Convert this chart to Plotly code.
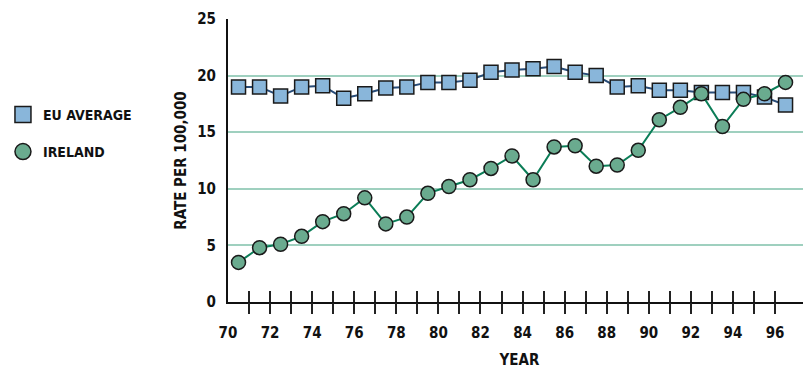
import plotly.graph_objects as go

years = list(range(1970, 1997))
eu_average = [19.0, 19.0, 18.2, 19.0, 19.1, 18.0, 18.4, 18.9, 19.0, 19.4,
              19.4, 19.6, 20.3, 20.5, 20.6, 20.8, 20.3, 20.0, 19.0, 19.1,
              18.7, 18.7, 18.5, 18.5, 18.5, 18.1, 17.4]
ireland = [3.5, 4.8, 5.1, 5.8, 7.1, 7.8, 9.2, 6.9, 7.5, 9.6,
           10.2, 10.8, 11.8, 12.9, 10.8, 13.7, 13.8, 12.0, 12.1, 13.4,
           16.1, 17.2, 18.4, 15.5, 17.9, 18.4, 19.4]
x_label_vals = list(range(70, 97, 2))
x_tick_vals = list(range(71, 97))
y_tick_vals = [0, 5, 10, 15, 20, 25]

# plot years at mid-year position on a 2-digit year axis
xpos = [y - 1900 + 0.5 for y in years]

FONT = "DejaVu Sans Condensed, Liberation Sans Narrow, sans-serif"
EU_FILL = "#89b6da"
EU_LINE = "#274b77"
IR_FILL = "#6aab8f"
IR_LINE = "#0b7d57"
EDGE = "#1a1a1a"
GRID = "#9fd0bf"

fig = go.Figure()

fig.add_trace(go.Scatter(
    x=xpos, y=eu_average, mode="lines+markers", name="EU AVERAGE",
    line=dict(color=EU_LINE, width=2),
    marker=dict(symbol="square", size=14, color=EU_FILL, line=dict(color=EDGE, width=1.5)),
    showlegend=False, cliponaxis=False,
))
fig.add_trace(go.Scatter(
    x=xpos, y=ireland, mode="lines+markers", name="IRELAND",
    line=dict(color=IR_LINE, width=2),
    marker=dict(symbol="circle", size=14, color=IR_FILL, line=dict(color=EDGE, width=1.5)),
    showlegend=False, cliponaxis=False,
))
# legend-only entries (marker only)
fig.add_trace(go.Scatter(
    x=[None], y=[None], mode="markers", name="EU AVERAGE",
    marker=dict(symbol="square", size=16, color=EU_FILL, line=dict(color=EDGE, width=1.5)),
    legend="legend",
))
fig.add_trace(go.Scatter(
    x=[None], y=[None], mode="markers", name="IRELAND",
    marker=dict(symbol="circle", size=16, color=IR_FILL, line=dict(color=EDGE, width=1.5)),
    legend="legend2",
))

tickfont = dict(family=FONT, size=15, color="#111111", weight="bold")
titlefont = dict(family=FONT, size=15, color="#111111", weight="bold")
legfont = dict(family=FONT, size=14, color="#111111", weight="bold")
xr = [70, 97.71]

# the page body has an 8px margin; figure is sized/margined to compensate
fig.update_layout(
    width=803, height=361,
    margin=dict(l=220, r=0, t=11, b=67, autoexpand=False),
    paper_bgcolor="white", plot_bgcolor="white",
    font=dict(family=FONT, color="#111111"),
    xaxis=dict(
        range=xr, tickmode="array", tickvals=x_label_vals,
        ticktext=[str(v) for v in x_label_vals],
        ticks="", showgrid=False, zeroline=False,
        showline=True, linecolor="#111111", linewidth=2,
        tickfont=tickfont, ticklabelstandoff=16, automargin=False,
        title=dict(text="YEAR", font=titlefont, standoff=21),
    ),
    xaxis2=dict(
        range=xr, overlaying="x", anchor="y", side="bottom",
        tickmode="array", tickvals=x_tick_vals, ticks="outside", ticklen=11,
        tickwidth=1.5, tickcolor="#222222", showticklabels=False,
        showgrid=False, zeroline=False, showline=False, automargin=False,
    ),
    xaxis3=dict(
        range=xr, overlaying="x", anchor="y", side="bottom",
        tickmode="array", tickvals=x_tick_vals, ticks="inside", ticklen=11,
        tickwidth=1.5, tickcolor="#222222", showticklabels=False,
        showgrid=False, zeroline=False, showline=False, automargin=False,
    ),
    yaxis=dict(
        range=[0, 25], tickmode="array", tickvals=y_tick_vals,
        ticks="", showgrid=True, gridcolor=GRID, gridwidth=1.5,
        zeroline=False, showline=True, linecolor="#111111", linewidth=2,
        tickfont=tickfont, ticklabelstandoff=7, automargin=False,
        title=dict(text="RATE PER 100,000", font=titlefont, standoff=7),
    ),
    legend=dict(
        x=-0.386, y=0.661, xanchor="left", yanchor="middle",
        font=legfont, bgcolor="rgba(0,0,0,0)", itemwidth=30,
    ),
    legend2=dict(
        x=-0.386, y=0.530, xanchor="left", yanchor="middle",
        font=legfont, bgcolor="rgba(0,0,0,0)", itemwidth=30,
    ),
)

# attach dummy traces to overlay axes so they render ticks
fig.add_trace(go.Scatter(x=[None], y=[None], xaxis="x2", showlegend=False, hoverinfo="skip"))
fig.add_trace(go.Scatter(x=[None], y=[None], xaxis="x3", showlegend=False, hoverinfo="skip"))

fig.write_html("out.html")
